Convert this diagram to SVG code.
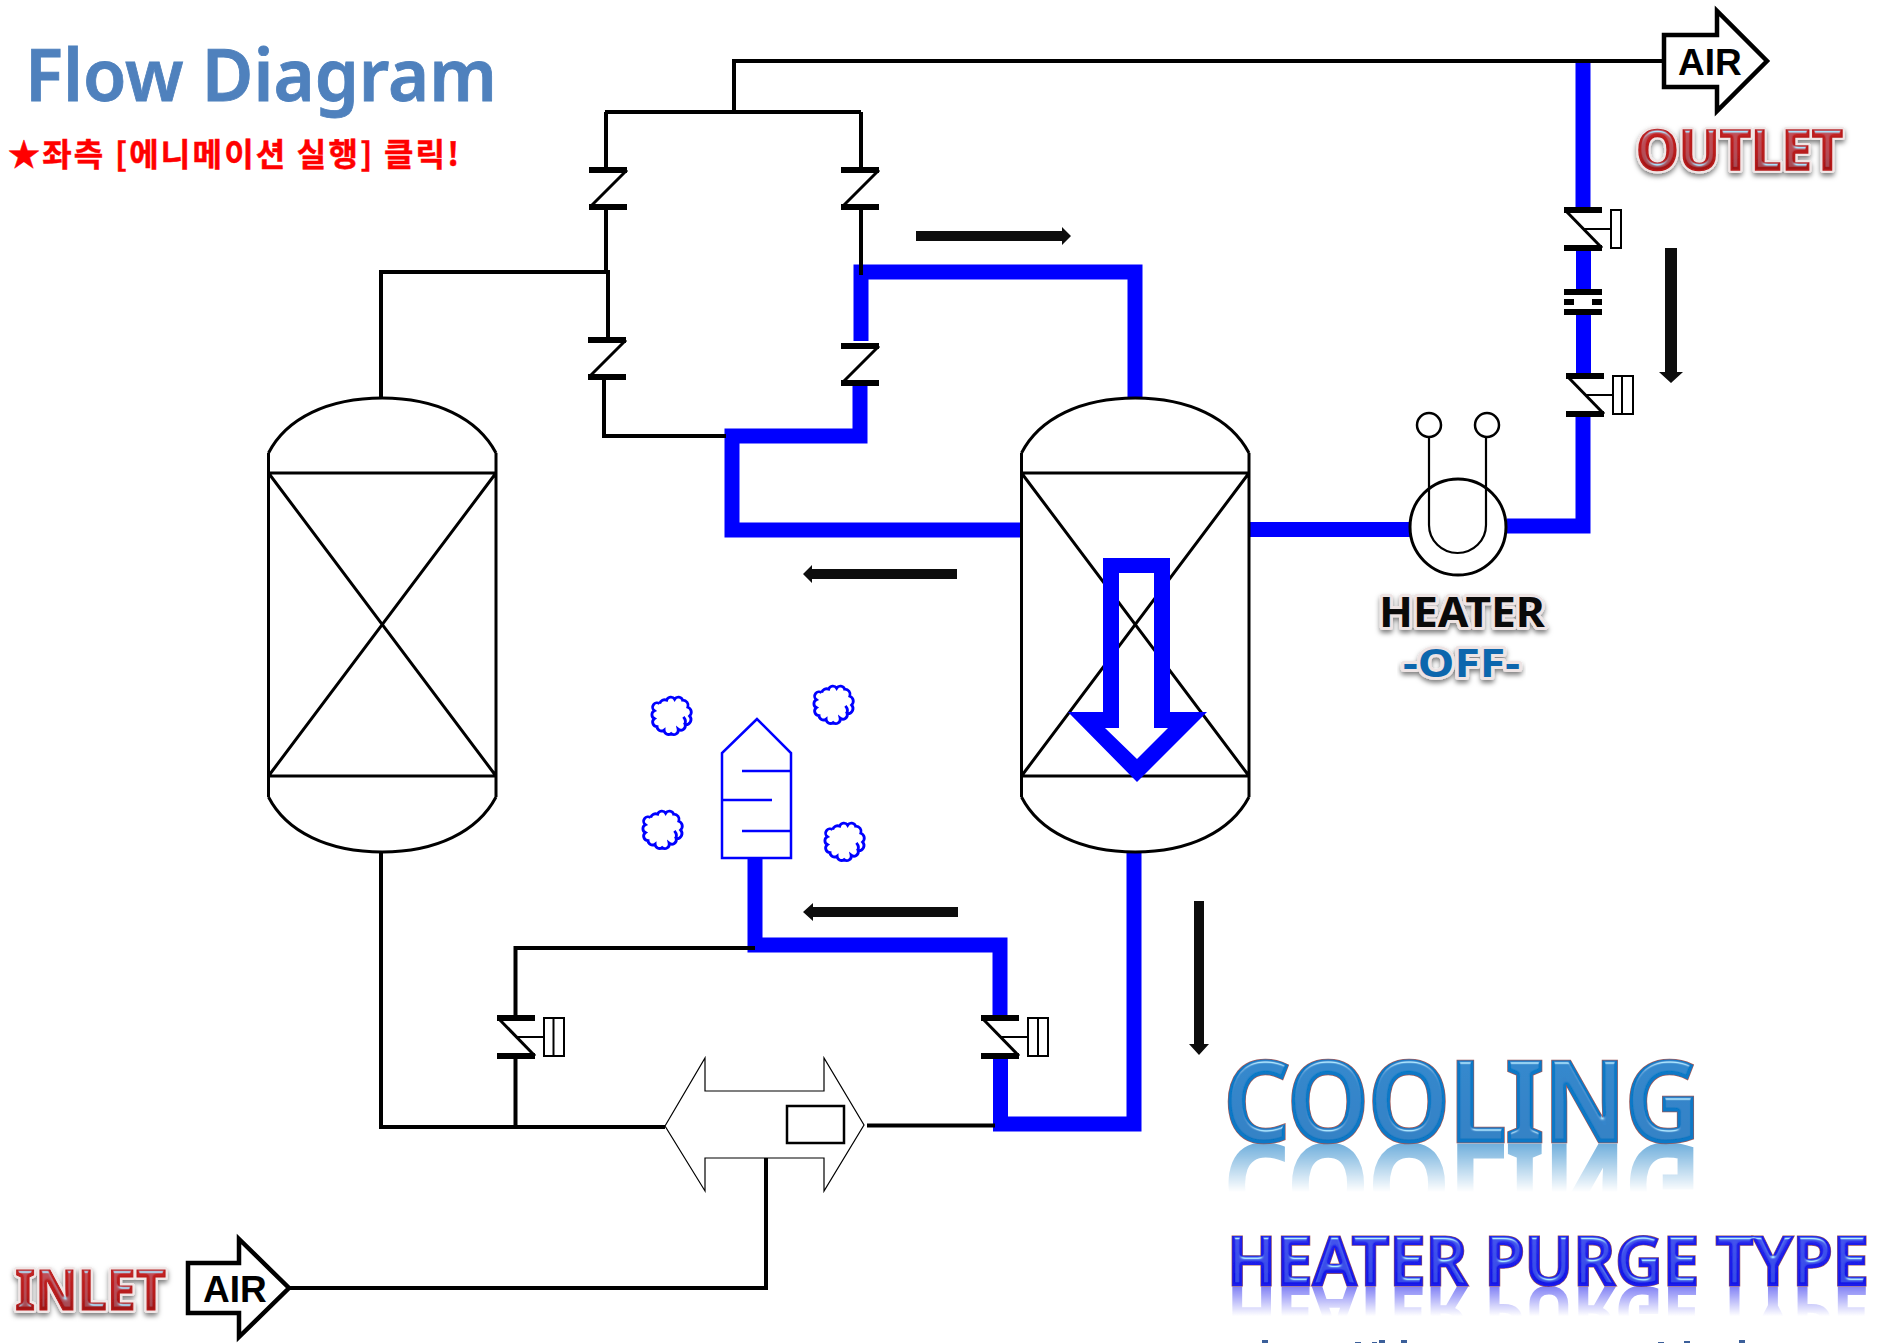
<svg xmlns="http://www.w3.org/2000/svg" width="1879" height="1343" viewBox="0 0 1879 1343">
<style>
.k{fill:none;stroke:#000;stroke-width:4}
.b{fill:none;stroke:#00f;stroke-width:15;stroke-linejoin:miter}
.t{fill:none;stroke:#000;stroke-width:3}
.bar{stroke:#000;stroke-width:6;fill:none}
.ac{fill:#fff;stroke:#000;stroke-width:2}
.pb{fill:none;stroke:#00f;stroke-width:2.500}
.fa{fill:#0d0d0d}
.air{font-family:"Liberation Sans",Arial,sans-serif;font-weight:700;font-size:37px;fill:#000}
.wa{font-family:"Noto Sans","Liberation Sans",sans-serif;font-weight:700}
.wb{font-family:"Noto Sans","Liberation Sans",sans-serif;font-weight:600}
.frag{fill:#3b5f9a}
</style>
<defs>
<g id="cv"><path class="bar" d="M0 0H38M0 37H38"/><path class="t" d="M38 0L1 37"/></g>
<g id="av"><path class="bar" d="M0 0H38M0 38H38"/><path class="t" d="M1 0L38 38"/><path d="M19 19H47" fill="none" stroke="#000" stroke-width="2"/></g>
<g id="cloud"><path d="M-14-14A6 6 0 0 1-6-18A5 5 0 0 1 3-19A5 5 0 0 1 12-18A6 6 0 0 1 18-10A6 6 0 0 1 20 0A6 6 0 0 1 15 10A5 5 0 0 1 7 15A5 5 0 0 1-1 20A5 5 0 0 1-9 16A5 5 0 0 1-17 12A5 5 0 0 1-20 3A5 5 0 0 1-20-6A5 5 0 0 1-14-14M13 1Q17 6 14 10" fill="none" stroke="#00f" stroke-width="3.200" transform="scale(.88)"/></g>
<g id="vessel"><path d="M0 55V75M0 378V399M227.500 55V75M227.500 378V399M0 75H227.500V378H0ZM0 75L227.500 378M227.500 75L0 378M0 55C18 20 60 0 113.750 0C167 0 209 20 227.500 55M0 399C18 434 60 454 113.750 454C167 454 209 434 227.500 399" fill="none" stroke="#000" stroke-width="3"/></g>
<linearGradient id="gRed" x1="0" y1="0" x2="0" y2="1"><stop offset="0" stop-color="#cf2a28"/><stop offset=".55" stop-color="#b81c1c"/><stop offset="1" stop-color="#8a1212"/></linearGradient>
<linearGradient id="gCool" x1="0" y1="0" x2="0" y2="1"><stop offset="0" stop-color="#0e80cc"/><stop offset="1" stop-color="#0670bc"/></linearGradient>
<linearGradient id="gPurge" x1="0" y1="0" x2="0" y2="1"><stop offset="0" stop-color="#3a3aee"/><stop offset="1" stop-color="#0808e4"/></linearGradient>
<linearGradient id="fade1" gradientUnits="userSpaceOnUse" x1="0" y1="1143" x2="0" y2="1192"><stop offset="0" stop-color="#fff" stop-opacity=".6"/><stop offset="1" stop-color="#fff" stop-opacity="0"/></linearGradient>
<linearGradient id="fade2" gradientUnits="userSpaceOnUse" x1="0" y1="1286" x2="0" y2="1316"><stop offset="0" stop-color="#fff" stop-opacity=".6"/><stop offset="1" stop-color="#fff" stop-opacity="0"/></linearGradient>
<mask id="m1" maskUnits="userSpaceOnUse" x="1200" y="1143" width="520" height="60"><rect x="1200" y="1143" width="520" height="60" fill="url(#fade1)"/></mask>
<mask id="m2" maskUnits="userSpaceOnUse" x="1210" y="1286" width="669" height="40"><rect x="1210" y="1286" width="669" height="40" fill="url(#fade2)"/></mask>
<filter id="bevel" x="-5%" y="-15%" width="110%" height="130%">
<feGaussianBlur in="SourceAlpha" stdDeviation="1.500" result="bl"/>
<feSpecularLighting in="bl" surfaceScale="3" specularConstant="1.100" specularExponent="26" lighting-color="#a8e4ff" result="sp"><feDistantLight azimuth="270" elevation="40"/></feSpecularLighting>
<feComposite in="sp" in2="SourceAlpha" operator="in" result="s2"/>
<feMerge><feMergeNode in="SourceGraphic"/><feMergeNode in="s2"/></feMerge>
</filter>
<filter id="shadow" x="-5%" y="-20%" width="110%" height="145%"><feDropShadow dx="0" dy="3" stdDeviation="2.500" flood-color="#000" flood-opacity=".5"/></filter>
<text id="tCool" class="wb" x="1224" y="1141" font-size="110" textLength="476" lengthAdjust="spacingAndGlyphs">COOLING</text>
<text id="tPurge" class="wb" x="1227" y="1285" font-size="67" textLength="642" lengthAdjust="spacingAndGlyphs">HEATER PURGE TYPE</text>
<text id="tOutlet" class="wa" x="1636" y="170" font-size="56" textLength="207" lengthAdjust="spacingAndGlyphs">OUTLET</text>
<text id="tInlet" class="wa" x="15" y="1310" font-size="56" textLength="151" lengthAdjust="spacingAndGlyphs">INLET</text>
<text id="tHeater" class="wa" x="1379" y="627" font-size="42" textLength="166" lengthAdjust="spacingAndGlyphs">HEATER</text>
<text id="tOff" class="wa" x="1403" y="677" font-size="40" textLength="117" lengthAdjust="spacingAndGlyphs">-OFF-</text>
</defs>
<rect width="1879" height="1343" fill="#fff"/>

<g id="connectors">
<path class="b" d="M1583 61V210M1583.500 248V292M1583.500 312V376M1583 414V526H1507"/>
<path class="b" d="M1410 529.500H1248"/>
<path class="b" d="M861 341V272H1135V398"/>
<path class="b" d="M860 383V436H732V530H1021"/>
<path class="b" d="M755 858V945H1000V1018"/>
<path class="b" d="M1000.500 1057V1124H1134V852"/>
<path class="k" d="M734 112V61H1663"/>
<path class="k" d="M605 112H861M606 112V170M861 112V170"/>
<path class="k" d="M606 207V272M861 207V275"/>
<path class="k" d="M381 398V272H608V340M604 377V436H726"/>
<path class="k" d="M381 852V1127H665"/>
<path class="k" d="M515.500 1018V948H755M515.500 1056V1127"/>
<path class="k" d="M867 1125.500H995"/>
<path class="k" d="M290 1288H766V1158"/>
</g>

<g id="header"><text x="25" y="101" font-family="'Noto Sans','Liberation Sans',sans-serif" font-size="72" font-weight="600" fill="#4f81bd" stroke="#4f81bd" stroke-width=".8" textLength="472" lengthAdjust="spacingAndGlyphs">Flow Diagram</text>
<text x="8" y="166" font-family="'Noto Sans CJK KR','Noto Sans',sans-serif" font-size="32" font-weight="700" fill="#f00" stroke="#f00" stroke-width=".5" textLength="451" lengthAdjust="spacing">★좌측 [에니메이션 실행] 클릭!</text></g>

<g id="vessel-left"><use href="#vessel" x="268.500" y="398"/></g>
<g id="vessel-right"><use href="#vessel" x="1021.500" y="398"/></g>
<path id="flow-arrow-big" fill="#00f" fill-rule="evenodd" d="M1103 558H1170V712H1207L1137 782L1068 712H1103ZM1119 573V728H1105L1137 759L1168 728H1154V573Z"/>

<g id="valve-c1"><use href="#cv" x="589" y="170"/></g>
<g id="valve-c2"><use href="#cv" x="841" y="170"/></g>
<g id="valve-c3"><use href="#cv" x="588" y="340"/></g>
<g id="valve-c4"><use href="#cv" x="841" y="346"/></g>

<g id="valve-out1"><use href="#av" x="1564" y="210"/><rect class="ac" x="1611" y="210" width="10" height="38"/></g>
<g id="orifice"><path class="bar" d="M1564 292H1602M1564 312H1602M1564 302H1574M1592 302H1602"/></g>
<g id="valve-out2"><use href="#av" x="1566" y="376"/><rect class="ac" x="1613" y="376" width="20" height="38"/><path d="M1622 376V414" stroke="#000" stroke-width="2"/></g>
<g id="valve-l"><use href="#av" x="497" y="1018"/><rect class="ac" x="544" y="1018" width="20" height="38"/><path d="M553.500 1018V1056" stroke="#000" stroke-width="2"/></g>
<g id="valve-r"><use href="#av" x="981" y="1018"/><rect class="ac" x="1028" y="1018" width="20" height="38"/><path d="M1038 1018V1056" stroke="#000" stroke-width="2"/></g>

<g id="heater"><circle cx="1458" cy="527" r="48" fill="#fff" stroke="#000" stroke-width="3"/><circle cx="1429" cy="425" r="12" fill="#fff" stroke="#000" stroke-width="2.500"/><circle cx="1487" cy="425" r="12" fill="#fff" stroke="#000" stroke-width="2.500"/><path d="M1429 437V525A28.500 28 0 0 0 1486 525V437" fill="none" stroke="#000" stroke-width="2.200"/></g>

<g id="silencer"><path class="pb" d="M757 719L722 753V858H791V753ZM742 771H791M722 800H772M742 831H791"/></g>
<g id="clouds"><use href="#cloud" x="672" y="716"/><use href="#cloud" x="834" y="705"/><use href="#cloud" x="663" y="830"/><use href="#cloud" x="845" y="842"/></g>

<g id="switch-valve"><path d="M665 1126L705 1058V1091H824V1058L864 1125L824 1191V1158H705V1191Z" fill="#fff" stroke="#000" stroke-width="1.200"/><rect x="787" y="1106" width="57" height="37" fill="#fff" stroke="#000" stroke-width="2.500"/></g>
<g id="stem-patch"><path class="k" d="M766 1158V1191"/></g>

<g id="air-out"><path d="M1664 35H1717V11L1767 61L1717 111V87H1664Z" fill="#fff" stroke="#000" stroke-width="4.500"/><text class="air" x="1678" y="75">AIR</text></g>
<g id="air-in"><path d="M188 1263H239V1239L289 1288L239 1337V1313H188Z" fill="#fff" stroke="#000" stroke-width="4.500"/><text class="air" x="203" y="1302">AIR</text></g>

<g id="flow-arrows" class="fa">
<path d="M916 231H1062V227L1071 236L1062 245V241H916Z"/>
<path d="M957 569H812V565L803 574L812 583V579H957Z"/>
<path d="M958 907H813V903L803 912L813 921V917H958Z"/>
<path d="M1665 248H1677V372H1683L1671 383L1659 372H1665Z"/>
<path d="M1194 901H1204V1044H1209L1199 1055L1189 1044H1194Z"/>
</g>

<g id="label-outlet"><use href="#tOutlet" fill="#f0e6e6" stroke="#f0e6e6" stroke-width="6" stroke-linejoin="round" filter="url(#shadow)"/><use href="#tOutlet" fill="url(#gRed)" stroke="#b81c1c" stroke-width="1.500" filter="url(#bevel)"/></g>
<g id="label-inlet"><use href="#tInlet" fill="#f0e6e6" stroke="#f0e6e6" stroke-width="6" stroke-linejoin="round" filter="url(#shadow)"/><use href="#tInlet" fill="url(#gRed)" stroke="#b81c1c" stroke-width="1" filter="url(#bevel)"/></g>
<g id="label-heater"><use href="#tHeater" fill="#eee4e4" stroke="#eee4e4" stroke-width="6" stroke-linejoin="round" filter="url(#shadow)"/><use href="#tHeater" fill="#0a0a0a"/><use href="#tOff" fill="#eee4e4" stroke="#eee4e4" stroke-width="6" stroke-linejoin="round" filter="url(#shadow)"/><use href="#tOff" fill="#0c66ad"/></g>

<g id="label-cooling">
<g mask="url(#m1)"><g transform="translate(0 2286) scale(1 -1)"><use href="#tCool" fill="#0e78c4" stroke="#0e78c4" stroke-width="3"/></g></g>
<use href="#tCool" fill="#a05a5a" stroke="#a05a5a" stroke-width="4.500"/>
<use href="#tCool" fill="url(#gCool)" stroke="#0a78c6" stroke-width="3" filter="url(#bevel)"/>
</g>
<g id="label-purge">
<g mask="url(#m2)"><g transform="translate(0 2572) scale(1 -1)"><use href="#tPurge" fill="#2a2aee" stroke="#2a2aee" stroke-width="1.500"/></g></g>
<use href="#tPurge" fill="#a05a5a" stroke="#a05a5a" stroke-width="3"/>
<use href="#tPurge" fill="url(#gPurge)" stroke="#1a1aea" stroke-width="1.800" filter="url(#bevel)"/>
</g>

<g id="clipped-line" class="frag"><rect x="1262" y="1340" width="6" height="3"/><rect x="1355" y="1342" width="6" height="1"/><rect x="1372" y="1342" width="5" height="1"/><rect x="1379" y="1340" width="6" height="3"/><rect x="1401" y="1340" width="6" height="3"/><rect x="1658" y="1342" width="6" height="1"/><rect x="1684" y="1341" width="6" height="2"/><rect x="1739" y="1340" width="6" height="3"/></g>
</svg>
